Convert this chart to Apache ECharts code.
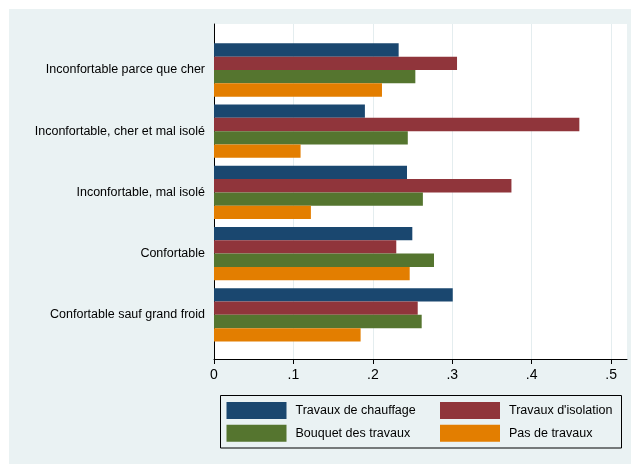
<!DOCTYPE html>
<html>
<head>
<meta charset="utf-8">
<script src="https://cdn.jsdelivr.net/npm/echarts@6/dist/echarts.min.js"></script>
<style>
  html, body { margin: 0; padding: 0; background: #fff; }
  #chart { width: 631px; height: 464px;
    background: linear-gradient(#eaf2f3, #eaf2f3) 9px 9px / 622px 455px no-repeat, #ffffff; }
</style>
</head>
<body>
<div id="chart"></div>
<script>
const categories = [
  'Inconfortable parce que cher',
  'Inconfortable, cher et mal isolé',
  'Inconfortable, mal isolé',
  'Confortable',
  'Confortable sauf grand froid'
];
const seriesNames = ['Travaux de chauffage', "Travaux d'isolation", 'Bouquet des travaux', 'Pas de travaux'];
const chauffage = [0.2325, 0.190, 0.243, 0.2497, 0.3006];
const isolation = [0.306, 0.460, 0.3745, 0.2295, 0.2565];
const bouquet   = [0.2535, 0.244, 0.263, 0.277, 0.2615];
const pasTravaux = [0.2115, 0.109, 0.122, 0.2464, 0.1846];
const xTicks = [0, 0.1, 0.2, 0.3, 0.4, 0.5];
const xTickLabels = ['0', '.1', '.2', '.3', '.4', '.5'];
const colors = ['#1a476f', '#90353b', '#55752f', '#e37e00'];

const FONT = "'Liberation Sans', Arial, sans-serif";
const chart = echarts.init(document.getElementById('chart'), null, { renderer: 'canvas' });
const values = [chauffage, isolation, bouquet, pasTravaux];

const option = {
  backgroundColor: 'transparent',
  animation: false,
  textStyle: { fontFamily: FONT },
  grid: [
    { left: 214, right: 4, top: 39.4, height: 306, containLabel: false },
    { left: 214, right: 4, top: 24, bottom: 105, show: true, backgroundColor: '#ffffff', borderWidth: 0 }
  ],
  xAxis: [
    { gridIndex: 0, type: 'value', min: 0, max: 0.52, show: false },
    { gridIndex: 1, type: 'value', min: 0, max: 0.52, interval: 0.1,
      axisLine: { show: true, onZero: false, lineStyle: { color: '#000', width: 1 } },
      axisTick: { show: true, inside: false, length: 5, lineStyle: { color: '#000' }, customValues: xTicks },
      axisLabel: { show: true, margin: 9, color: '#000', fontSize: 14, fontFamily: FONT,
        customValues: xTicks,
        formatter: function (v) { const i = xTicks.findIndex(t => Math.abs(t - v) < 1e-9); return i >= 0 ? xTickLabels[i] : ''; } },
      splitLine: { show: true, lineStyle: { color: '#e4edef', width: 1 } }
    }
  ],
  yAxis: [
    { gridIndex: 0, type: 'category', data: categories, inverse: true,
      axisLine: { show: false }, axisTick: { show: false },
      axisLabel: { margin: 9, color: '#000', fontSize: 12.5, fontFamily: FONT },
      splitLine: { show: false } },
    { gridIndex: 1, type: 'value', min: 0, max: 1,
      axisLine: { show: true, lineStyle: { color: '#000', width: 1 } },
      axisTick: { show: false }, axisLabel: { show: false }, splitLine: { show: false } }
  ],
  legend: [
    { data: [seriesNames[0], seriesNames[2]], orient: 'vertical', left: 226.5, top: 402,
      itemWidth: 60, itemHeight: 17, itemGap: 5.7, icon: 'rect', padding: 0,
      textStyle: { color: '#000', fontSize: 12.5, fontFamily: FONT, padding: [0, 0, 0, 4] } },
    { data: [seriesNames[1], seriesNames[3]], orient: 'vertical', left: 440, top: 402,
      itemWidth: 60, itemHeight: 17, itemGap: 5.7, icon: 'rect', padding: 0,
      textStyle: { color: '#000', fontSize: 12.5, fontFamily: FONT, padding: [0, 0, 0, 4] } }
  ],
  graphic: [
    { type: 'rect', shape: { x: 220.5, y: 395.5, width: 401, height: 52.5 },
      style: { fill: 'transparent', stroke: '#000', lineWidth: 1 }, silent: true }
  ],
  series: seriesNames.map((name, i) => ({
    name: name, type: 'bar', xAxisIndex: 0, yAxisIndex: 0,
    data: values[i], barGap: '0%', barCategoryGap: '12.9%',
    itemStyle: { color: colors[i] }
  }))
};
chart.setOption(option);
</script>
</body>
</html>
